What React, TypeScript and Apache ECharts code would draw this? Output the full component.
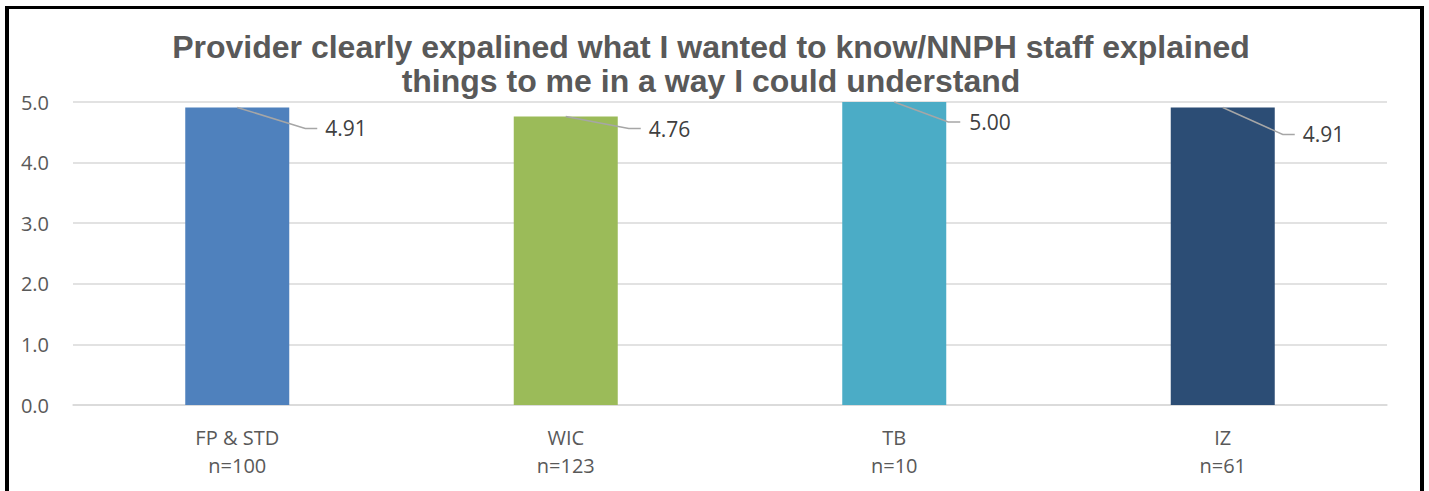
import React, { useEffect, useRef } from "react";
import * as echarts from "echarts";

const titleText =
  "Provider clearly expalined what I wanted to know/NNPH staff explained\nthings to me in a way I could understand";
const categories = ["FP & STD", "WIC", "TB", "IZ"];
const sampleSizes = [100, 123, 10, 61];
const scores = [4.91, 4.76, 5.0, 4.91];
const barColors = ["#4F81BD", "#9BBB59", "#4BACC6", "#2C4D75"];
const yTicks = [0, 1, 2, 3, 4, 5];
// leader-line layout per label: [dx, dy, horizontal end, text start]
const leaderLayout = [
  [68, 21, 80, 88],
  [63, 12, 75, 83],
  [54, 20, 66, 75],
  [60, 27, 72, 80],
];

const FONT = "'Open Sans', sans-serif";

export default function App() {
  const ref = useRef<HTMLDivElement>(null);

  useEffect(() => {
    if (!ref.current) return;
    const chart = echarts.init(ref.current, undefined, { renderer: "svg" });
    const xLabels = categories.map((c, i) => `${c}\nn=${sampleSizes[i]}`);
    chart.setOption({
      animation: false,
      backgroundColor: "#FFFFFF",
      title: {
        text: titleText,
        left: 711,
        textAlign: "center",
        top: 30,
        padding: 0,
        textStyle: {
          fontFamily: "'Liberation Sans', Arial, sans-serif",
          fontWeight: "bold",
          fontSize: 32,
          lineHeight: 34,
          color: "#595959",
        },
      },
      grid: { left: 73, right: 42, top: 102, bottom: 86, containLabel: false },
      xAxis: {
        type: "category",
        data: xLabels,
        axisLine: { show: true, lineStyle: { color: "#D9D9D9", width: 1.5 } },
        axisTick: { show: false },
        axisLabel: {
          margin: 18,
          fontFamily: FONT,
          fontSize: 20,
          lineHeight: 28,
          color: "#595959",
        },
      },
      yAxis: {
        type: "value",
        min: yTicks[0],
        max: yTicks[yTicks.length - 1],
        interval: 1,
        axisLine: { show: false },
        axisTick: { show: false },
        splitLine: { lineStyle: { color: "#D9D9D9", width: 1.5 } },
        axisLabel: {
          margin: 24,
          fontFamily: FONT,
          fontSize: 20,
          color: "#595959",
          formatter: (v: number) => v.toFixed(1),
        },
      },
      series: [
        {
          type: "bar",
          barWidth: 104,
          data: scores.map((v, i) => ({ value: v, itemStyle: { color: barColors[i] } })),
        },
        {
          type: "custom",
          encode: { x: 0, y: 1 },
          data: scores.map((v, i) => [i, v]),
          z: 10,
          renderItem: (params: any, api: any) => {
            const idx = params.dataIndex;
            const pt = api.coord([api.value(0), api.value(1)]);
            const [dx, dy, hx, tx] = leaderLayout[idx];
            return {
              type: "group",
              children: [
                {
                  type: "polyline",
                  shape: {
                    points: [
                      [pt[0], pt[1]],
                      [pt[0] + dx, pt[1] + dy],
                      [pt[0] + hx, pt[1] + dy],
                    ],
                  },
                  style: { stroke: "#A6A6A6", lineWidth: 1.5, fill: null },
                },
                {
                  type: "text",
                  x: pt[0] + tx,
                  y: pt[1] + dy,
                  style: {
                    text: scores[idx].toFixed(2),
                    fontFamily: FONT,
                    fontSize: 21,
                    fill: "#404040",
                    align: "left",
                    verticalAlign: "middle",
                  },
                },
              ],
            };
          },
        },
      ],
    });
    return () => chart.dispose();
  }, []);

  return (
    <div style={{ position: "absolute", left: 0, top: 0, width: 1429, height: 491 }}>
      <div ref={ref} style={{ position: "absolute", left: 0, top: 0, width: 1429, height: 491 }} />
      <div
        style={{
          position: "absolute",
          left: 5,
          top: 6,
          width: 1419,
          height: 520,
          boxSizing: "border-box",
          borderTop: "3px solid #000",
          borderLeft: "4px solid #000",
          borderRight: "4px solid #000",
          pointerEvents: "none",
        }}
      />
    </div>
  );
}
